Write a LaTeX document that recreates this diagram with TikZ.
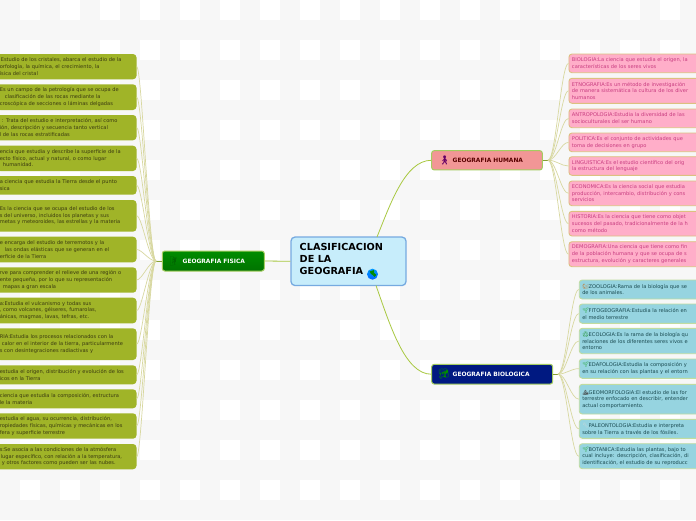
\documentclass[tikz,border=0pt]{standalone}
\usepackage{fontspec}
\setmainfont{DejaVu Sans}
\newfontfamily\emo{Noto Emoji}
\definecolor{lfill}{HTML}{A0B428}
\definecolor{ltext}{HTML}{3A3A10}
\definecolor{pfill}{HTML}{FFAEC9}
\definecolor{pedge}{HTML}{DCC080}
\definecolor{ptext}{HTML}{C83C80}
\definecolor{bfill}{HTML}{96D4E0}
\definecolor{bedge}{HTML}{C0DCA0}
\definecolor{btext}{HTML}{1A4A50}
\definecolor{wire}{HTML}{D8D8A0}
\definecolor{stem}{HTML}{A8C840}
\definecolor{medge}{HTML}{A4CC60}
\tikzset{
 x=1pt,y=-1pt,
 lbox/.style={draw=none,fill=lfill,rounded corners=3.5pt,anchor=east,inner xsep=3pt,inner ysep=0pt,text width=133.7pt,align=left,text=ltext,font=\fontsize{5.1}{6.7}\selectfont},
 pbox/.style={draw=pedge,line width=.9pt,fill=pfill,rounded corners=3pt,anchor=west,inner xsep=3pt,inner ysep=0pt,text width=180pt,align=left,text=ptext,font=\fontsize{5.1}{6.7}\selectfont},
 zbox/.style={draw=bedge,line width=.9pt,fill=bfill,rounded corners=3pt,anchor=west,inner xsep=3pt,inner ysep=0pt,text width=180pt,align=left,text=btext,font=\fontsize{5.1}{6.7}\selectfont},
 mainbox/.style={draw=medge,line width=1pt,rounded corners=2.5pt,inner sep=0pt,font=\bfseries\fontsize{5.9}{7}\selectfont,align=left},
 wirel/.style={draw=wire,line width=.7pt},
 stemline/.style={draw=stem,line width=.8pt},
}
\newcommand{\lb}[4]{\node[lbox,minimum height=#3pt-#2pt] (#1) at (136.7,{(#2+#3)/2}) {#4};
 \draw[wirel] (hubl) .. controls (149,261) and (142,{(#2+#3)/2}) .. (#1.east);}
\newcommand{\pb}[4]{\node[pbox,minimum height=#3pt-#2pt] (#1) at (568.5,{(#2+#3)/2}) {#4};
 \draw[wirel] (hubh) .. controls (556,160) and (561,{(#2+#3)/2}) .. (#1.west);}
\newcommand{\zb}[4]{\node[zbox,minimum height=#3pt-#2pt] (#1) at (578.8,{(#2+#3)/2}) {#4};
 \draw[wirel] (hubb) .. controls (566,374) and (571,{(#2+#3)/2}) .. (#1.west);}
\newcommand{\ic}[2]{{\color{#1}\emo #2}}
\begin{document}
\begin{tikzpicture}
\useasboundingbox (0,0) rectangle (696,520);
\fill[white] (0,0) rectangle (696,520);
\foreach \i in {0,2,...,34} \fill[black!3] (\i*20,0) rectangle +(20,520);
\foreach \j in {0,2,...,24} \fill[black!3] (0,\j*20+20) rectangle +(696,20);
% main nodes
\node[draw=cyan!60!blue!55,line width=1.3pt,fill=cyan!22,rounded corners=4pt,minimum width=115pt,minimum height=48.5pt,inner sep=0pt] (ctr) at (348.5,261.3) {};
\node[anchor=north west,inner sep=0pt,font=\bfseries\fontsize{9.7}{12.2}\selectfont,align=left] (ctrt) at (299.5,243) {CLASIFICACION\\DE LA\\GEOGRAFIA\hspace*{12pt}};
\shade[top color=cyan!60!blue,bottom color=blue!60!cyan] (372.5,274.2) circle (5.5);
\fill[green!55!black] (369.5,271.5) to[bend left=20] (374,270) to[bend left=30] (373,275) to[bend left=10] (371,274) -- cycle;
\fill[green!55!black] (374.5,275) circle (1.8);
\node[mainbox,minimum width=102pt,minimum height=20pt,top color=green!55!black,bottom color=green!45!black,text=white] (fis) at (213.3,261) {};
\node[anchor=west,inner sep=0pt,font=\bfseries\fontsize{5.9}{7}\selectfont,text=white] (fist) at (182.5,261) {GEOGRAFIA FISICA};
\node[anchor=center,inner sep=0pt,font=\emo\fontsize{9}{9}\selectfont,text=green!40!black] (fisi) at (173.5,261) {🧗};
\node[mainbox,minimum width=110.6pt,minimum height=19.3pt,fill=red!20!pink!90!gray] (hum) at (487,160.3) {};
\node[anchor=west,inner sep=0pt,font=\bfseries\fontsize{5.9}{7}\selectfont,text=red!35!black] (humt) at (452.5,160.3) {GEOGRAFIA HUMANA};
\node[anchor=center,inner sep=0pt,font=\emo\fontsize{9}{9}\selectfont,text=violet!80!black] (humi) at (444.5,160.3) {🚶};
\node[mainbox,minimum width=121pt,minimum height=19.7pt,fill=blue!45!black!90!cyan] (bio) at (492.2,374.2) {};
\node[anchor=west,inner sep=0pt,font=\bfseries\fontsize{5.9}{7}\selectfont,text=white] (biot) at (452.5,374.2) {GEOGRAFIA BIOLOGICA};
\node[anchor=center,inner sep=0pt,font=\emo\fontsize{10}{10}\selectfont,text=green!55!black] (bioi) at (444,374.2) {🥦};
% connectors between main nodes
\coordinate (ctop) at (377,237);
\coordinate (cbot) at (376,285.5);
\draw[stemline] (ctr.west) -- (fis.east);
\draw[stemline] (ctop) .. controls (390,205) and (405,160.3) .. (hum.west);
\draw[stemline] (cbot) .. controls (390,325) and (405,374.2) .. (bio.west);
\coordinate (hubl) at (156,261);
\coordinate (hubh) at (548,160.3);
\coordinate (hubb) at (558,374.2);
\draw[stem!80!black,line width=.8pt] (fis.west) -- (hubl);
\draw[stem!80!black,line width=.8pt] (hum.east) -- (hubh);
\draw[stem!80!black,line width=.8pt] (bio.east) -- (hubb);
% left boxes
\lb{l1}{54}{79.3}{\hspace*{1pt}Estudio de los cristales, abarca el estudio de la\\orfología, la química, el crecimiento, la\\ísica del cristal}
\lb{l2}{84.3}{110}{Es un campo de la petrología que se ocupa de\\\hspace*{5pt}clasificación de las rocas mediante la\\croscópica de secciones o láminas delgadas}
\lb{l3}{115}{140.3}{\hspace*{2pt}: Trata del estudio e interpretación, así como\\ión, descripción y secuencia tanto vertical\\l de las rocas estratificadas}
\lb{l4}{145.7}{171}{encia que estudia y describe la superficie de la\\ecto físico, actual y natural, o como lugar\\\hspace*{3pt}humanidad.}
\lb{l5}{176}{194.7}{a ciencia que estudia la Tierra desde el punto\\sica}
\lb{l6}{200}{231.7}{Es la ciencia que se ocupa del estudio de los\\s del universo, incluidos los planetas y sus\\metas y meteoroides, las estrellas y la materia\\[6.7pt]}
\lb{l7}{236.7}{262.3}{e encarga del estudio de terremotos y la\\\hspace*{5pt}las ondas elásticas que se generan en el\\erficie de la Tierra}
\lb{l8}{267.3}{292.7}{rve para comprender el relieve de una región o\\ente pequeña, por lo que su representación\\\hspace*{3pt}mapas a gran escala}
\lb{l9}{297.7}{323.3}{a:Estudia el vulcanismo y todas sus\\, como volcanes, géiseres, fumarolas,\\ánicas, magmas, lavas, tefras, etc.}
\lb{l10}{328.3}{360}{RIA:Estudia los procesos relacionados con la\\\hspace*{2pt}calor en el interior de la tierra, particularmente\\s con desintegraciones radiactivas y\\[6.7pt]}
\lb{l11}{365.3}{384.3}{estudia el origen, distribución y evolución de los\\icos en la Tierra}
\lb{l12}{389.3}{408.3}{ciencia que estudia la composición, estructura\\le la materia}
\lb{l13}{413.3}{438.7}{estudia el agua, su ocurrencia, distribución,\\ropiedades físicas, químicas y mecánicas en los\\fera y superficie terrestre}
\lb{l14}{444}{469.3}{s:Se asocia a las condiciones de la atmósfera\\\hspace*{1pt}lugar específico, con relación a la temperatura,\\\hspace*{2pt}y otros factores como pueden ser las nubes.}
% pink boxes
\pb{p1}{54}{72.7}{BIOLOGIA:La ciencia que estudia el origen, la\\características de los seres vivos}
\pb{p2}{78.3}{103.3}{ETNOGRAFIA:Es un método de investigación\\de manera sistemática la cultura de los diver\\humanos}
\pb{p3}{109}{127.7}{ANTROPOLOGIA:Estudia la diversidad de las\\socioculturales del ser humano}
\pb{p4}{133}{151.7}{POLITICA:Es el conjunto de actividades que\\toma de decisiones en grupo}
\pb{p5}{156.7}{175.3}{LINGUISTICA:Es el estudio científico del orig\\la estructura del lenguaje}
\pb{p6}{181}{205.7}{ECONOMICA:Es la ciencia social que estudia\\producción, intercambio, distribución y cons\\servicios}
\pb{p7}{211.3}{236}{HISTORIA:Es la ciencia que tiene como objet\\sucesos del pasado, tradicionalmente de la h\\como método}
\pb{p8}{241.7}{266.7}{DEMOGRAFIA:Una ciencia que tiene como fin\\de la población humana y que se ocupa de s\\estructura, evolución y caracteres generales}
% blue boxes
\zb{z1}{280}{299}{\ic{brown}{🐿}ZOOLOGIA:Rama de la biología que se\\de los animales.}
\zb{z2}{304}{323.3}{\ic{green!60!black}{🌱}FITOGEOGRAFIA:Estudia la relación en\\el medio terrestre}
\zb{z3}{328.3}{353.7}{\ic{green!50!black}{♻}ECOLOGIA:Es la rama de la biología qu\\relaciones de los diferentes seres vivos e\\entorno}
\zb{z4}{359}{378.3}{\ic{green!60!black}{🌱}EDAFOLOGIA:Estudia la composición y\\en su relación con las plantas y el entorn}
\zb{z5}{384.3}{414}{\ic{black!75}{⛰}GEOMORFOLOGIA:El estudio de las for\\terrestre enfocado en describir, entender\\actual comportamiento.}
\zb{z6}{419.3}{438.3}{\ic{black!15}{🔧}PALEONTOLOGIA:Estudia e interpreta\\sobre la Tierra a través de los fósiles.}
\zb{z7}{443.7}{468.7}{\ic{green!60!black}{🌱}BOTANICA:Estudia las plantas, bajo to\\cual incluye: descripción, clasificación, di\\identificación, el estudio de su reproducc}
\end{tikzpicture}
\end{document}
